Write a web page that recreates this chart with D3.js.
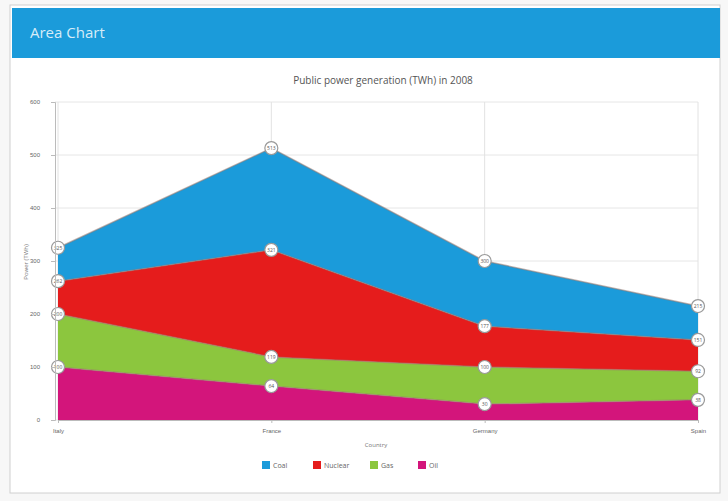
<!DOCTYPE html>
<html><head><meta charset="utf-8">
<script src="https://cdn.jsdelivr.net/npm/d3@7"></script>
<style>
body{margin:0;background:#f7f7f7;font-family:"Open Sans",Arial,sans-serif;}
</style></head>
<body>
<svg id="c" width="728" height="501"></svg>
<script>
const categories = ["Italy", "France", "Germany", "Spain"];
const seriesNames = ["Oil", "Gas", "Nuclear", "Coal"];
const oil = [100, 64, 30, 38];
const gas = [100, 55, 70, 54];
const nuclear = [62, 202, 77, 59];
const coal = [63, 192, 123, 64];
const yTicks = [0, 100, 200, 300, 400, 500, 600];
const legendOrder = ["Coal", "Nuclear", "Gas", "Oil"];
const colors = {Coal: "#1b9bda", Nuclear: "#e51c1c", Gas: "#8cc63e", Oil: "#d3157b"};

const svg = d3.select("#c");
// card
svg.append("rect").attr("x",10).attr("y",5).attr("width",710).attr("height",488).attr("fill","#fff").attr("stroke","#d0d0d0");
svg.append("rect").attr("x",12).attr("y",8).attr("width",708).attr("height",50).attr("fill","#1b9bda");
svg.append("text").attr("x",30).attr("y",38).attr("fill","#d6ecf8").attr("font-size",15).text("Area Chart");

svg.append("text").attr("x",383).attr("y",84).attr("text-anchor","middle").attr("fill","#555").attr("font-size",10).text("Public power generation (TWh) in 2008");

const table = categories.map((c,i)=>({cat:c, Oil:oil[i], Gas:gas[i], Nuclear:nuclear[i], Coal:coal[i]}));
const stack = d3.stack().keys(seriesNames)(table);

const x = d3.scalePoint().domain(categories).range([58, 698]);
const y = d3.scaleLinear().domain([0, 600]).range([420, 102]);

const g = svg.append("g");
// grid
g.selectAll(".hg").data(yTicks).enter().append("line")
  .attr("x1",55).attr("x2",698).attr("y1",d=>y(d)).attr("y2",d=>y(d)).attr("stroke","#e6e6e6");
g.selectAll(".vg").data(categories).enter().append("line")
  .attr("x1",d=>x(d)).attr("x2",d=>x(d)).attr("y1",102).attr("y2",420).attr("stroke","#e2e2e2");

const area = d3.area().x(d=>x(d.data.cat)).y0(d=>y(d[0])).y1(d=>y(d[1]));
const line = d3.line().x(d=>x(d.data.cat)).y(d=>y(d[1]));
stack.forEach(s=>{
  g.append("path").datum(s).attr("d",area).attr("fill",colors[s.key]);
});
stack.forEach(s=>{
  g.append("path").datum(s).attr("d",line).attr("fill","none").attr("stroke","#9a7a70").attr("stroke-opacity",0.55).attr("stroke-width",1.5);
});
// axes
const yAxis = d3.axisLeft(y).tickValues(yTicks).tickSize(4);
const ya = svg.append("g").attr("transform","translate(55,0)").call(yAxis);
ya.select(".domain").attr("stroke","#bbb");
ya.selectAll(".tick line").attr("stroke","#bbb");
ya.selectAll("text").attr("fill","#666").attr("font-size",6).attr("dx","-8");
const xAxis = d3.axisBottom(x).tickSize(3);
const xa = svg.append("g").attr("transform","translate(0,420)").call(xAxis);
xa.select(".domain").attr("stroke","#bbb");
xa.selectAll(".tick line").attr("stroke","#bbb");
xa.selectAll("text").attr("fill","#666").attr("font-size",6).attr("dy","1.2em");

svg.append("text").attr("transform","translate(28,262) rotate(-90)").attr("text-anchor","middle").attr("fill","#777").attr("font-size",6).text("Power (TWh)");
svg.append("text").attr("x",376).attr("y",447).attr("text-anchor","middle").attr("fill","#777").attr("font-size",6).text("Country");

// markers
stack.forEach(s=>{
  s.forEach(d=>{
    const cx = x(d.data.cat), cy = y(d[1]);
    g.append("circle").attr("cx",cx).attr("cy",cy).attr("r",6.5).attr("fill","#fff").attr("stroke","#999").attr("stroke-width",1.2);
    g.append("text").attr("x",cx).attr("y",cy+2).attr("text-anchor","middle").attr("font-size",5).attr("fill","#555").text(d[1]);
  });
});

// legend
const lx = [262, 313, 370, 418];
const lg = svg.append("g");
legendOrder.forEach((k,i)=>{
  lg.append("rect").attr("x",lx[i]).attr("y",461).attr("width",8).attr("height",8).attr("fill",colors[k]);
  lg.append("text").attr("x",lx[i]+11).attr("y",468).attr("font-size",7).attr("fill","#666").text(k);
});
</script>
</body></html>
